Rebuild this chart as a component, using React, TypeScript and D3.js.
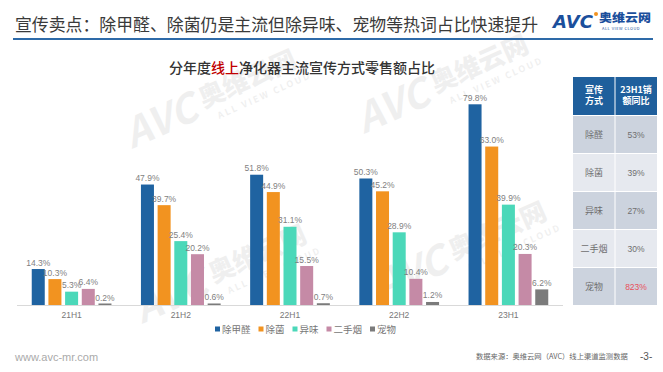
import React from "react";
import * as d3 from "d3";

const categories = ["21H1", "21H2", "22H1", "22H2", "23H1"];
const seriesNames = ["除甲醛", "除菌", "异味", "二手烟", "宠物"];
const seriesColors = ["#1f63a1", "#f29320", "#4bd8b9", "#c58aa6", "#7b7b7b"];
const valChujiaquan = [14.3, 47.9, 51.8, 50.3, 79.8];
const valChujun = [10.3, 39.7, 44.9, 45.2, 63.0];
const valYiwei = [5.3, 25.4, 31.1, 28.9, 39.9];
const valErshouyan = [6.4, 20.2, 15.5, 10.4, 20.3];
const valChongwu = [0.2, 0.6, 0.7, 1.2, 6.2];
const seriesValues = [valChujiaquan, valChujun, valYiwei, valErshouyan, valChongwu];

const tableHeader1 = ["宣传", "方式"];
const tableHeader2 = ["23H1销", "额同比"];
const tableLabels = ["除醛", "除菌", "异味", "二手烟", "宠物"];
const tableValues = ["53%", "39%", "27%", "30%", "823%"];

const FONT = "'Noto Sans CJK SC', 'Noto Sans', sans-serif";

function Watermark({ x, y }: { x: number; y: number }) {
  return (
    <g transform={`translate(${x},${y}) rotate(-24)`} fill="#000" opacity={0.06} fontFamily={FONT}>
      <text x={-78} y={8} fontSize={40} fontWeight={700} fontStyle="italic">AVC</text>
      <text x={4} y={0} fontSize={26} fontWeight={900}>奥维云网</text>
      <text x={14} y={16} fontSize={9} fontWeight={700} letterSpacing={2}>ALL VIEW CLOUD</text>
    </g>
  );
}

export default function App() {
  const W = 663, H = 372;
  const baseY = 305;
  const y = d3.scaleLinear().domain([0, 79.8]).range([baseY, 104.3]);
  const x0 = d3.scaleBand<string>().domain(categories).range([17, 563]).paddingInner(0.27).paddingOuter(0.135);
  const x1 = d3.scaleBand<string>().domain(seriesNames).range([0, x0.bandwidth()]).paddingInner(0.22);

  const tableX = [573, 615, 657];
  const rowY = [77, 115, 153, 191, 229, 267, 305];
  const rowFill = ["#ccd3de", "#e6e9ef"];

  const legendFont = 9.5;
  let lx = 215;
  const legendItems = seriesNames.map((n, i) => {
    const item = { n, i, x: lx };
    lx += 7 + n.length * legendFont + 8;
    return item;
  });

  return (
    <svg width={W} height={H} style={{ position: "absolute", left: 0, top: 0, background: "#fff" }} fontFamily={FONT}>
      <rect width={W} height={H} fill="#fff" />
      <Watermark x={200} y={110} />
      <Watermark x={432} y={95} />
      <Watermark x={210} y={285} />
      <Watermark x={450} y={262} />

      {/* header */}
      <text x={15} y={31} fontSize={17.5} fill="#3a3a3a" textLength={523} lengthAdjust="spacingAndGlyphs">宣传卖点：除甲醛、除菌仍是主流但除异味、宠物等热词占比快速提升</text>
      <line x1={13} x2={653} y1={39} y2={39} stroke="#2e6aa8" strokeWidth={2} />
      <g>
        <text x={553} y={28} fontSize={17} fontWeight={900} fontStyle="italic" fill="#1b4f9c" fontFamily="'DejaVu Sans', sans-serif" textLength={40} lengthAdjust="spacingAndGlyphs">AVC</text>
        <circle cx={596} cy={14} r={2} fill="#f29320" />
        <text x={599} y={22} fontSize={11.5} fontWeight={900} fill="#1b4f9c" textLength={52} lengthAdjust="spacingAndGlyphs">奥维云网</text>
        <text x={602} y={30} fontSize={4} fill="#1b4f9c" letterSpacing={0.5}>ALL VIEW CLOUD</text>
      </g>

      <text x={302} y={73} textAnchor="middle" fontSize={14} fontWeight={500} fill="#333">
        分年度<tspan fill="#c00000">线上</tspan>净化器主流宣传方式零售额占比
      </text>

      {categories.map((c, ci) => (
        <g key={c} transform={`translate(${x0(c)},0)`}>
          {seriesNames.map((s, si) => {
            const v = seriesValues[si][ci];
            const bx = x1(s)!;
            const top = y(v);
            const h = Math.max(baseY - top, 1.5);
            return (
              <g key={s}>
                <rect x={bx} y={baseY - h} width={x1.bandwidth()} height={h} fill={seriesColors[si]} />
                <text x={bx + x1.bandwidth() / 2} y={top - 3.5} textAnchor="middle" fontSize={8.5} fill="#7f7f7f" fontFamily="'Liberation Sans', sans-serif">
                  {v.toFixed(1)}%
                </text>
              </g>
            );
          })}
          <text x={x0.bandwidth() / 2} y={318} textAnchor="middle" fontSize={8.5} fill="#777" fontFamily="'Liberation Sans', sans-serif">{c}</text>
        </g>
      ))}
      <line x1={17} x2={563} y1={baseY + 0.5} y2={baseY + 0.5} stroke="#d9d9d9" strokeWidth={1} />

      {legendItems.map(({ n, i, x }) => (
        <g key={n}>
          <rect x={x} y={326.5} width={5} height={5} fill={seriesColors[i]} />
          <text x={x + 7} y={332.5} fontSize={legendFont} fill="#777">{n}</text>
        </g>
      ))}

      <g>
        <rect x={tableX[0]} y={rowY[0]} width={tableX[2] - tableX[0]} height={rowY[1] - rowY[0]} fill="#1f5f9c" />
        <line x1={tableX[1]} x2={tableX[1]} y1={rowY[0]} y2={rowY[1]} stroke="#fff" strokeWidth={1} />
        <text x={(tableX[0] + tableX[1]) / 2} y={93} textAnchor="middle" fontSize={9} fontWeight={700} fill="#fff">
          <tspan x={(tableX[0] + tableX[1]) / 2} dy={0}>{tableHeader1[0]}</tspan>
          <tspan x={(tableX[0] + tableX[1]) / 2} dy={11}>{tableHeader1[1]}</tspan>
        </text>
        <text x={(tableX[1] + tableX[2]) / 2} y={93} textAnchor="middle" fontSize={9} fontWeight={700} fill="#fff">
          <tspan x={(tableX[1] + tableX[2]) / 2} dy={0}>{tableHeader2[0]}</tspan>
          <tspan x={(tableX[1] + tableX[2]) / 2} dy={11}>{tableHeader2[1]}</tspan>
        </text>
        {tableLabels.map((lab, ri) => {
          const ty = rowY[ri + 1], by = rowY[ri + 2];
          const cy = (ty + by) / 2 + 3.5;
          return (
            <g key={lab}>
              <rect x={tableX[0]} y={ty} width={tableX[2] - tableX[0]} height={by - ty} fill={rowFill[ri % 2]} />
              <line x1={tableX[0]} x2={tableX[2]} y1={ty + 0.5} y2={ty + 0.5} stroke="#fff" strokeWidth={1} />
              <line x1={tableX[1]} x2={tableX[1]} y1={ty} y2={by} stroke="#fff" strokeWidth={1} />
              <text x={(tableX[0] + tableX[1]) / 2} y={cy} textAnchor="middle" fontSize={9} fill="#6f6f6f">{lab}</text>
              <text x={(tableX[1] + tableX[2]) / 2} y={cy} textAnchor="middle" fontSize={8.5} fill={ri === 4 ? "#e8505b" : "#6f6f6f"} fontFamily="'Liberation Sans', sans-serif">{tableValues[ri]}</text>
            </g>
          );
        })}
      </g>

      <text x={15} y={361} fontSize={11} fill="#aaa" fontFamily="'Liberation Sans', sans-serif">www.avc-mr.com</text>
      <text x={476} y={359} fontSize={7.3} fill="#666">数据来源：奥维云网（AVC）线上渠道监测数据</text>
      <text x={640} y={360} fontSize={10} fill="#555" fontFamily="'Liberation Sans', sans-serif">-3-</text>
    </svg>
  );
}
